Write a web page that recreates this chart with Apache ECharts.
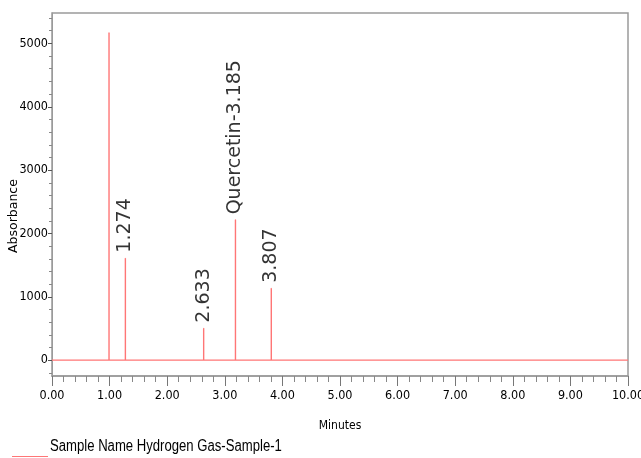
<!DOCTYPE html>
<html>
<head>
<meta charset="utf-8">
<script src="https://cdn.jsdelivr.net/npm/echarts@6/dist/echarts.min.js"></script>
<style>
  html, body { margin: 0; padding: 0; background: #fff; }
  #chart { width: 641px; height: 458px; }
</style>
</head>
<body>
<div id="chart"></div>
<script>
// Chromatogram: retention times (minutes), peak heights and peak labels
const retentionTimes = [0.99, 1.274, 2.633, 3.185, 3.807];
const peakHeights = [5170, 1610, 505, 2215, 1135];
const peakLabels = ['', '1.274', '2.633', 'Quercetin-3.185', '3.807'];

// Axis ticks
const yMajorTicks = [0, 1000, 2000, 3000, 4000, 5000];
const yMinorTicks = [-200, 200, 400, 600, 800, 1200, 1400, 1600, 1800, 2200, 2400, 2600, 2800,
  3200, 3400, 3600, 3800, 4200, 4400, 4600, 4800, 5200, 5400];
const runStart = 0;
const runEnd = 10;

const narrow = "'Liberation Sans Narrow', 'DejaVu Sans Condensed', sans-serif";
const traceColor = '#ff7676';

// Trace: flat baseline with a vertical spike at every detected peak
const trace = [[runStart, 0]];
retentionTimes.forEach((t, i) => {
  trace.push([t, 0]);
  trace.push([t, peakHeights[i]]);
  trace.push([t, 0]);
});
trace.push([runEnd, 0]);

// Peak apex points carrying the retention-time labels
const apexes = retentionTimes.map((t, i) => ({
  value: [t, peakHeights[i]],
  label: { show: peakLabels[i] !== '', formatter: peakLabels[i] }
}));

const chart = echarts.init(document.getElementById('chart'), null, { renderer: 'canvas' });

chart.setOption({
  animation: false,
  grid: {
    left: 52, right: 13, top: 13, bottom: 82,
    outerBoundsMode: 'none',
    show: true, borderColor: '#9a9a9a', borderWidth: 1.5, backgroundColor: 'transparent'
  },
  xAxis: {
    type: 'value',
    min: runStart, max: runEnd, interval: 1,
    name: 'Minutes', nameLocation: 'middle', nameGap: 44,
    nameTextStyle: { fontFamily: narrow, fontSize: 12, color: '#000' },
    axisLine: { show: true, onZero: false, lineStyle: { color: '#9a9a9a', width: 1.5 } },
    axisTick: { show: true, length: 10, lineStyle: { color: '#777' } },
    minorTick: { show: true, splitNumber: 5, length: 6, lineStyle: { color: '#888' } },
    splitLine: { show: false },
    axisLabel: {
      fontFamily: narrow, fontSize: 12.5, color: '#000', margin: 13,
      formatter: v => v.toFixed(2)
    }
  },
  yAxis: [{
    type: 'value',
    min: -250, max: 5480,
    axisLine: { show: true, lineStyle: { color: '#9a9a9a', width: 1 } },
    axisTick: { show: true, length: 4, customValues: yMajorTicks, lineStyle: { color: '#555' } },
    splitLine: { show: false },
    axisLabel: {
      fontFamily: narrow, fontSize: 12.5, color: '#000', margin: 4,
      customValues: yMajorTicks,
      formatter: v => String(v)
    }
  }, {
    type: 'value',
    position: 'left',
    min: -250, max: 5480,
    axisLine: { show: false },
    axisTick: { show: true, length: 3, customValues: yMinorTicks, lineStyle: { color: '#888' } },
    axisLabel: { show: false },
    splitLine: { show: false }
  }],
  series: [{
    type: 'line',
    data: trace,
    yAxisIndex: 0,
    symbol: 'none',
    clip: true,
    lineStyle: { color: traceColor, width: 1.4 }
  }, {
    type: 'scatter',
    data: apexes,
    yAxisIndex: 0,
    symbolSize: 1,
    itemStyle: { color: traceColor },
    label: {
      show: false,
      position: 'top',
      distance: 5,
      rotate: 90,
      align: 'left',
      verticalAlign: 'middle',
      fontFamily: "'DejaVu Sans', sans-serif",
      fontSize: 19,
      color: '#000'
    }
  }],
  graphic: [
    {
      type: 'text',
      x: 14, y: 216,
      rotation: Math.PI / 2,
      style: {
        text: 'Absorbance',
        fontFamily: "'DejaVu Sans', sans-serif",
        fontSize: 12.5,
        fill: '#000',
        align: 'center',
        verticalAlign: 'middle'
      }
    },
    {
      type: 'line',
      shape: { x1: 12, y1: 456.5, x2: 48, y2: 456.5 },
      style: { stroke: traceColor, lineWidth: 1 }
    },
    {
      type: 'text',
      x: 50, y: 447,
      scaleX: 0.82,
      style: {
        text: 'Sample Name Hydrogen Gas-Sample-1',
        fontFamily: "'Liberation Sans', Arial, sans-serif",
        fontSize: 16,
        fill: '#000',
        align: 'left',
        verticalAlign: 'middle'
      }
    }
  ]
});
</script>
</body>
</html>
